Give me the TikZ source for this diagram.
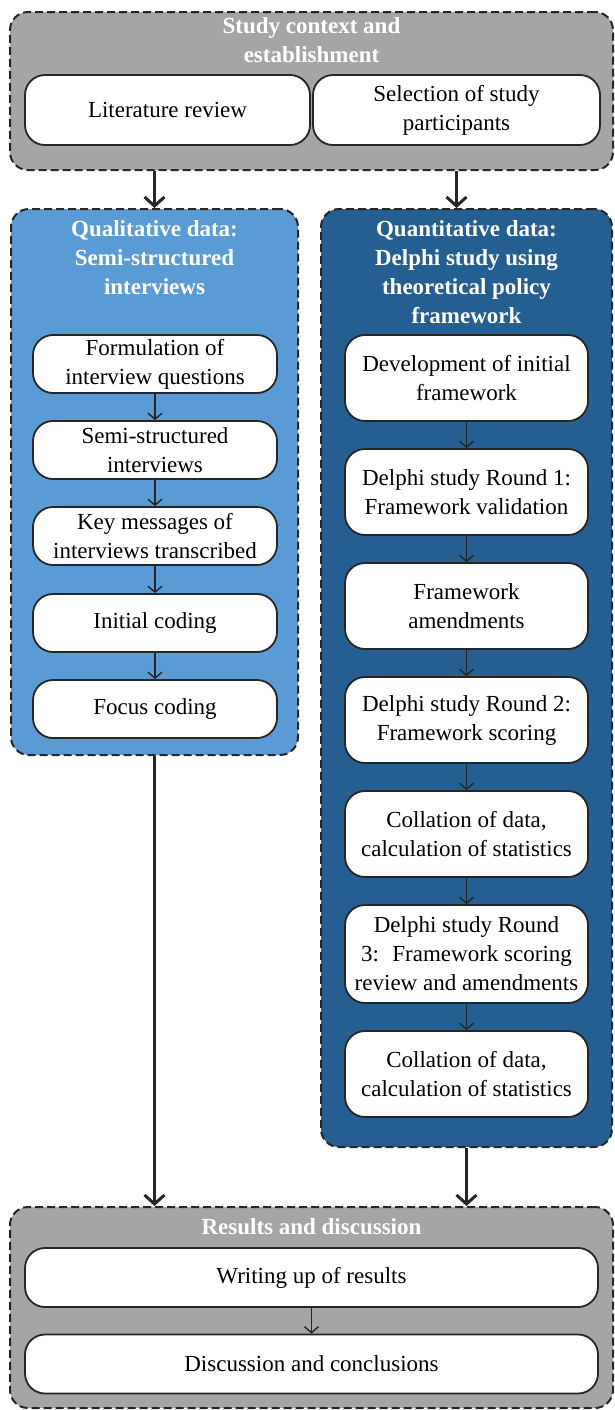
\documentclass[tikz,border=0pt]{standalone}
\usepackage{fontspec}
\setmainfont{Liberation Serif}
\usetikzlibrary{arrows.meta,positioning}

\definecolor{boxgray}{HTML}{A5A5A5}
\definecolor{qualblue}{HTML}{5B9BD5}
\definecolor{quantblue}{HTML}{255E91}

\begin{document}
\begin{tikzpicture}[
    x = 0.5pt, y = -0.5pt, % one unit = one pixel of the sketch
    font = \fontsize{11.5}{14.5}\selectfont,
    group/.style = {draw = black!85, line width = 1pt, dash pattern = on 4pt off 2pt,
                    rounded corners = 9pt},
    head/.style = {text = white, font = \fontsize{11.5}{14.5}\selectfont\bfseries, align = center},
    stepbox/.style = {draw = black!85, line width = 0.9pt, fill = white,
                      rounded corners = 10pt, align = center, inner sep = 1pt},
    bigarrow/.style = {-{Straight Barb[length=4.5pt,width=10pt,line width=1.5pt]}, line width = 1.5pt, black!85},
    smallarrow/.style = {-{Straight Barb[length=3pt,width=7pt]}, line width = 0.7pt, black!85}
    ]
    \useasboundingbox (0,0) rectangle (615,1410);

    % containers
    \node[group, fill = boxgray, minimum width = 301.5pt, minimum height = 79pt] (ctx) at (311.5,91) {};
    \node[group, fill = qualblue, minimum width = 143.5pt, minimum height = 273pt] (qual) at (154.5,482) {};
    \node[group, fill = quantblue, minimum width = 145.5pt, minimum height = 469pt] (quant) at (466.5,678) {};
    \node[group, fill = boxgray, minimum width = 301.5pt, minimum height = 100.5pt] (res) at (311.5,1307.5) {};

    % titles
    \node[head] (ctxtitle) at (311.5,40) {Study context and\\establishment};
    \node[head] (qualtitle) at (154.5,258) {Qualitative data:\\Semi-structured\\interviews};
    \node[head] (quanttitle) at (466.5,272) {Quantitative data:\\Delphi study using\\theoretical policy\\framework};
    \node[head] (restitle) at (311.5,1227) {Results and discussion};

    % study context
    \node[stepbox, minimum width = 142.5pt, minimum height = 35pt] (lit) at (167.5,110) {Literature review};
    \node[stepbox, minimum width = 143.5pt, minimum height = 35pt] (sel) at (456.5,110) {Selection of study\\participants};

    % qualitative steps
    \tikzset{qstep/.style = {stepbox, minimum width = 122pt, minimum height = 29pt}}
    \node[qstep] (q1) at (155,364) {Formulation of\\interview questions};
    \node[qstep] (q2) at (155,450) {Semi-structured\\interviews};
    \node[qstep] (q3) at (155,536) {Key messages of\\interviews transcribed};
    \node[qstep] (q4) at (155,623) {Initial coding};
    \node[qstep] (q5) at (155,709) {Focus coding};

    % quantitative steps
    \tikzset{dstep/.style = {stepbox, minimum width = 121.5pt, minimum height = 43pt}}
    \node[dstep] (d1) at (466.5,378) {Development of initial\\framework};
    \node[dstep] (d2) at (466.5,492) {Delphi study Round 1:\\Framework validation};
    \node[dstep] (d3) at (466.5,606) {Framework\\amendments};
    \node[dstep] (d4) at (466.5,720) {Delphi study Round 2:\\Framework scoring};
    \node[dstep] (d5) at (466.5,834) {Collation of data,\\calculation of statistics};
    \node[dstep, minimum height = 49pt] (d6) at (466.5,954) {Delphi study Round\\3:~ Framework scoring\\review and amendments};
    \node[dstep] (d7) at (466.5,1074) {Collation of data,\\calculation of statistics};

    % results
    \node[stepbox, minimum width = 286.5pt, minimum height = 29.5pt] (wr) at (311.5,1277.5) {Writing up of results};
    \node[stepbox, minimum width = 286.5pt, minimum height = 29.5pt] (disc) at (311.5,1364) {Discussion and conclusions};

    % main flow
    \draw[bigarrow] (ctx.south -| qual.north) -- (qual.north);
    \draw[bigarrow] (ctx.south -| sel.south) -- (sel.south |- quant.north);
    \draw[bigarrow] (qual.south) -- (qual.south |- res.north);
    \draw[bigarrow] (quant.south) -- (quant.south |- res.north);

    % steps
    \foreach \a/\b in {q1/q2, q2/q3, q3/q4, q4/q5, d1/d2, d2/d3, d3/d4, d4/d5, d5/d6, d6/d7, wr/disc}
        \draw[smallarrow] (\a) -- (\b);
\end{tikzpicture}
\end{document}
